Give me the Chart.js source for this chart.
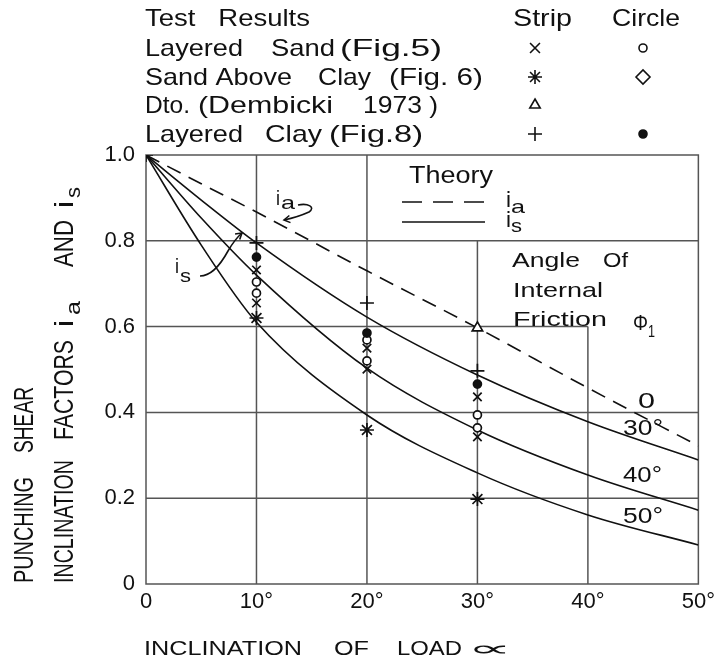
<!DOCTYPE html>
<html>
<head>
<meta charset="utf-8">
<script src="https://cdn.jsdelivr.net/npm/chart.js@4.4.1/dist/chart.umd.min.js"></script>
<style>
  html, body { margin: 0; padding: 0; background: #fff; }
  canvas { display: block; }
</style>
</head>
<body>
<canvas id="punchChart" width="720" height="661" style="width:720px;height:661px"></canvas>
<script>
// inclination of load (degrees) where the theory curves were read
var angles = [0, 5, 10, 20, 30, 40, 50];
// theory: i_a (dashed) and i_s for phi1 = 30, 40, 50
var iaTheory = [1.0, 0.933, 0.867, 0.73, 0.597, 0.457, 0.322];
var is30 = [1.0, 0.895, 0.795, 0.622, 0.487, 0.378, 0.289];
var is40 = [1.0, 0.853, 0.72, 0.503, 0.359, 0.254, 0.172];
var is50 = [1.0, 0.79, 0.61, 0.394, 0.259, 0.161, 0.091];

// test results
var sandStripX = [0, 10, 10, 20, 20, 30, 30];
var sandStripY = [1.0, 0.732, 0.655, 0.55, 0.501, 0.436, 0.343];
var sandCircleX = [10, 10, 20, 20, 30, 30];
var sandCircleY = [0.704, 0.678, 0.569, 0.52, 0.394, 0.364];
var sandClayStripX = [0, 10, 20, 30];
var sandClayStripY = [1.0, 0.62, 0.359, 0.198];
var dembickiX = [30];
var dembickiY = [0.597];
var clayStripX = [10, 20, 30];
var clayStripY = [0.795, 0.655, 0.497];
var clayCircleX = [10, 20, 30];
var clayCircleY = [0.762, 0.585, 0.466];

var xTicks = [0, 10, 20, 30, 40, 50];
var yTicks = [0, 0.2, 0.4, 0.6, 0.8, 1.0];
var curveNames = ["0", "30°", "40°", "50°"];

var INK = "#111";
var GRID = "#555";
var FONT = '"Liberation Sans", Arial, sans-serif';

function pts(xs, ys) {
  return xs.map(function (x, i) { return { x: x, y: ys[i] }; });
}

function curve(ys, dashed) {
  return {
    type: "line",
    data: pts(angles, ys),
    borderColor: INK,
    borderWidth: 1.6,
    borderDash: dashed ? [15, 9] : [],
    pointRadius: 0,
    cubicInterpolationMode: "monotone",
    fill: false
  };
}

function marks(xs, ys, style, radius, filled) {
  return {
    type: "scatter",
    data: pts(xs, ys),
    pointStyle: style,
    pointRadius: radius,
    pointBorderWidth: 1.7,
    pointBorderColor: INK,
    pointBackgroundColor: filled ? INK : "#fff",
    showLine: false
  };
}

// text squeezed/stretched between x0 and x1
function fitText(ctx, txt, x0, x1, base, size, family) {
  ctx.font = size + "px " + (family || FONT);
  var w = ctx.measureText(txt).width;
  ctx.save();
  ctx.translate(x0, base);
  ctx.scale((x1 - x0) / w, 1);
  ctx.textAlign = "left";
  ctx.textBaseline = "alphabetic";
  ctx.fillText(txt, 0, 0);
  ctx.restore();
}

// vertical text, read bottom to top, from y0 (bottom) up to y1
function upText(ctx, txt, xBase, y0, y1, size) {
  ctx.font = size + "px " + FONT;
  var w = ctx.measureText(txt).width;
  ctx.save();
  ctx.translate(xBase, y0);
  ctx.rotate(-Math.PI / 2);
  ctx.scale((y0 - y1) / w, 1);
  ctx.textAlign = "left";
  ctx.textBaseline = "alphabetic";
  ctx.fillText(txt, 0, 0);
  ctx.restore();
}

function arrowHead(ctx, x, y, ang) {
  var l = 7;
  ctx.beginPath();
  ctx.moveTo(x + l * Math.cos(ang + 2.6), y + l * Math.sin(ang + 2.6));
  ctx.lineTo(x, y);
  ctx.lineTo(x + l * Math.cos(ang - 2.6), y + l * Math.sin(ang - 2.6));
  ctx.stroke();
}

var gridV = [[10, 0, 1], [20, 0, 1], [30, 0, 0.8], [40, 0, 0.6]];
var gridH = [[0.2, 0, 50], [0.4, 0, 50], [0.6, 0, 40], [0.8, 0, 50]];

var paperPlugin = {
  id: "paper",
  beforeDatasetsDraw: function (chart) {
    var ctx = chart.ctx, xs = chart.scales.x, ys = chart.scales.y;
    ctx.save();
    ctx.strokeStyle = GRID;
    ctx.lineWidth = 1.5;
    gridV.forEach(function (g) {
      var px = xs.getPixelForValue(g[0]);
      ctx.beginPath();
      ctx.moveTo(px, ys.getPixelForValue(g[1]));
      ctx.lineTo(px, ys.getPixelForValue(g[2]));
      ctx.stroke();
    });
    gridH.forEach(function (g) {
      var py = ys.getPixelForValue(g[0]);
      ctx.beginPath();
      ctx.moveTo(xs.getPixelForValue(g[1]), py);
      ctx.lineTo(xs.getPixelForValue(g[2]), py);
      ctx.stroke();
    });
    var a = chart.chartArea;
    ctx.strokeRect(a.left, a.top, a.right - a.left, a.bottom - a.top);
    ctx.restore();
  },
  afterDraw: function (chart) {
    var ctx = chart.ctx;
    var H = Chart.helpers;
    ctx.save();
    ctx.fillStyle = INK;
    ctx.strokeStyle = INK;
    ctx.lineWidth = 1.6;

    // header table
    fitText(ctx, "Test   Results", 145, 310, 26, 24);
    fitText(ctx, "Strip", 513, 572, 26, 24);
    fitText(ctx, "Circle", 612, 680, 26, 24);
    var rows = [
      [["Layered", 145, 243], ["Sand", 271, 335], ["(Fig.5)", 340, 442]],
      [["Sand Above", 145, 292], ["Clay", 318, 371], ["(Fig. 6)", 389, 483]],
      [["Dto.", 145, 190], ["(Dembicki", 198, 333], ["1973 )", 363, 438]],
      [["Layered", 145, 243], ["Clay", 265, 322], ["(Fig.8)", 329, 423]]
    ];
    var rowY = [48, 77, 105, 134];
    var stripSym = [["crossRot", 7], ["star", 7], ["triangle", 6], ["cross", 7]];
    var circSym = [["circle", 4, false], ["rectRot", 7, false], null, ["circle", 4, true]];
    rows.forEach(function (r, i) {
      r.forEach(function (w) { fitText(ctx, w[0], w[1], w[2], rowY[i] + 8, 24); });
      ctx.fillStyle = "#fff";
      H.drawPoint(ctx, { pointStyle: stripSym[i][0], radius: stripSym[i][1], rotation: 0, borderWidth: 1.7 }, 535, rowY[i]);
      if (circSym[i]) {
        ctx.fillStyle = circSym[i][2] ? INK : "#fff";
        H.drawPoint(ctx, { pointStyle: circSym[i][0], radius: circSym[i][1], rotation: 0, borderWidth: 1.7 }, 643, rowY[i]);
      }
      ctx.fillStyle = INK;
    });

    // theory legend
    fitText(ctx, "Theory", 409, 493, 183, 23);
    ctx.save();
    ctx.setLineDash([20, 11]);
    ctx.beginPath(); ctx.moveTo(402, 202); ctx.lineTo(488, 202); ctx.stroke();
    ctx.restore();
    ctx.beginPath(); ctx.moveTo(402, 222); ctx.lineTo(485, 222); ctx.stroke();
    fitText(ctx, "i", 506, 511, 207, 22);
    fitText(ctx, "a", 511, 525, 213, 19);
    fitText(ctx, "i", 506, 511, 227, 22);
    fitText(ctx, "s", 511, 522, 232, 19);

    fitText(ctx, "Angle", 512, 580, 267, 21);
    fitText(ctx, "Of", 603, 628, 267, 21);
    fitText(ctx, "Internal", 513, 603, 297, 21);
    fitText(ctx, "Friction", 513, 607, 326, 21);
    fitText(ctx, "\u03A6", 633, 648, 330, 22);
    fitText(ctx, "1", 648, 655, 337, 16);

    // curve labels (phi1)
    fitText(ctx, curveNames[0], 638, 655, 408, 22);
    fitText(ctx, curveNames[1], 623, 663, 435, 22);
    fitText(ctx, curveNames[2], 623, 662, 482, 22);
    fitText(ctx, curveNames[3], 623, 663, 523, 22);

    // i_a pointer
    fitText(ctx, "i", 276, 280, 205, 21);
    fitText(ctx, "a", 281, 295, 209, 19);
    ctx.beginPath();
    ctx.moveTo(298, 205);
    ctx.bezierCurveTo(308, 203, 316, 207, 309, 212);
    ctx.quadraticCurveTo(298, 217, 284, 220);
    ctx.stroke();
    arrowHead(ctx, 284, 220, Math.PI * 0.95);

    // i_s pointer
    fitText(ctx, "i", 175, 179, 273, 20);
    fitText(ctx, "s", 180, 191, 282, 19);
    ctx.beginPath();
    ctx.moveTo(200, 276);
    ctx.bezierCurveTo(212, 276, 222, 262, 228, 251);
    ctx.quadraticCurveTo(235, 239, 242, 233);
    ctx.stroke();
    arrowHead(ctx, 242, 233, -Math.PI * 0.22);

    // x axis title
    fitText(ctx, "INCLINATION", 144, 302, 655, 20);
    fitText(ctx, "OF", 334, 369, 655, 20);
    fitText(ctx, "LOAD", 397, 462, 655, 20);
    fitText(ctx, "\u221D", 468, 512, 656, 22, '"DejaVu Sans", sans-serif');

    // y axis title (two lines)
    upText(ctx, "PUNCHING", 33, 583, 477, 28);
    upText(ctx, "SHEAR", 33, 453, 387, 28);
    upText(ctx, "INCLINATION", 73, 583, 460, 28);
    upText(ctx, "FACTORS", 73, 440, 340, 28);
    upText(ctx, "i", 73, 327, 320, 26);
    upText(ctx, "a", 80, 315, 301, 20);
    upText(ctx, "AND", 73, 267, 220, 28);
    upText(ctx, "i", 73, 208, 201, 26);
    upText(ctx, "s", 80, 198, 187, 20);

    ctx.restore();
  }
};

new Chart("punchChart", {
  data: {
    datasets: [
      marks(clayStripX, clayStripY, "cross", 7, false),
      marks(clayCircleX, clayCircleY, "circle", 4, true),
      marks(sandStripX, sandStripY, "crossRot", 6, false),
      marks(sandCircleX, sandCircleY, "circle", 4, false),
      marks(sandClayStripX, sandClayStripY, "star", 7, false),
      marks(dembickiX, dembickiY, "triangle", 6, false),
      curve(iaTheory, true),
      curve(is30, false),
      curve(is40, false),
      curve(is50, false)
    ]
  },
  options: {
    responsive: false,
    animation: false,
    layout: { padding: { top: 155, right: 20, bottom: 0, left: 0 } },
    plugins: { legend: { display: false }, tooltip: { enabled: false } },
    scales: {
      x: {
        type: "linear",
        min: 0, max: 50,
        afterBuildTicks: function (s) { s.ticks = xTicks.map(function (v) { return { value: v }; }); },
        afterFit: function (s) { s.height = 77; },
        grid: { display: false, drawTicks: false },
        border: { display: false },
        ticks: {
          color: INK, padding: 5,
          font: { family: FONT, size: 22 },
          callback: function (v) { return v === 0 ? "0" : v + "°"; }
        }
      },
      y: {
        type: "linear",
        min: 0, max: 1,
        afterBuildTicks: function (s) { s.ticks = yTicks.map(function (v) { return { value: v }; }); },
        afterFit: function (s) { s.width = 146; },
        grid: { display: false, drawTicks: false },
        border: { display: false },
        ticks: {
          color: INK, padding: 11,
          font: { family: FONT, size: 22 },
          callback: function (v) { return v === 0 ? "0" : v.toFixed(1); }
        }
      }
    }
  },
  plugins: [paperPlugin]
});
</script>
</body>
</html>
